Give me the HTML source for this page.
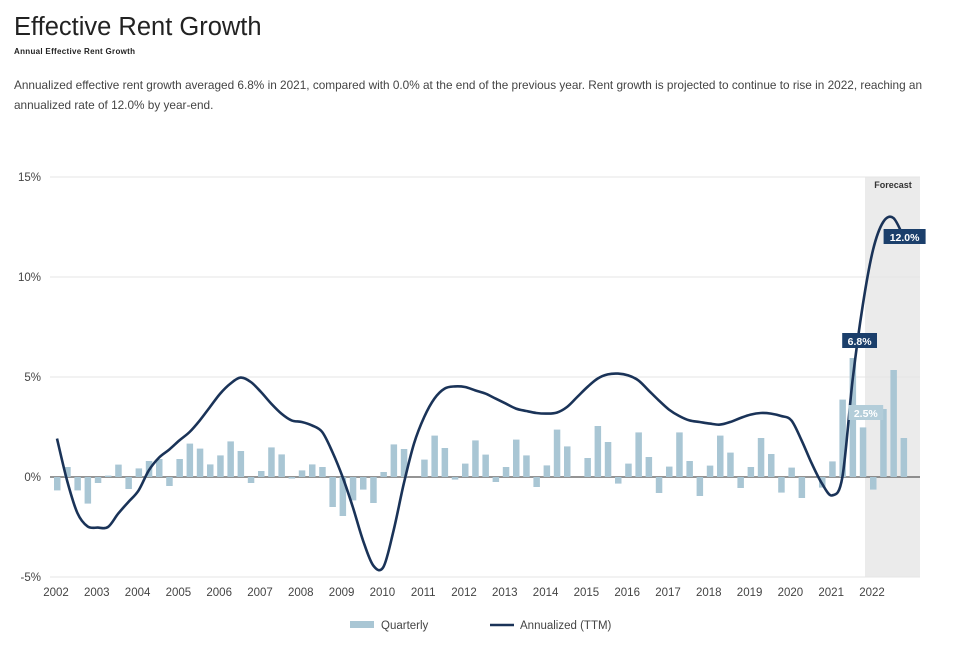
<!DOCTYPE html>
<html><head><meta charset="utf-8">
<style>
body{margin:0;background:#fff;font-family:"Liberation Sans",sans-serif;width:957px;height:651px;overflow:hidden;position:relative}
.t{position:absolute;left:14px;top:13px;font-size:25.5px;color:#222}
.s{position:absolute;left:14px;top:47px;font-size:8px;font-weight:bold;color:#222;letter-spacing:.3px}
.p{position:absolute;left:14px;top:75px;width:930px;font-size:11.8px;line-height:20px;color:#444}
svg{position:absolute;left:0;top:0}
</style></head><body>
<div class="t">Effective Rent Growth</div>
<div class="s">Annual Effective Rent Growth</div>
<div class="p">Annualized effective rent growth averaged 6.8% in 2021, compared with 0.0% at the end of the previous year. Rent growth is projected to continue to rise in 2022, reaching an annualized rate of 12.0% by year-end.</div>
<svg id="c" width="957" height="651"></svg>
<script>
const years=[2002,2003,2004,2005,2006,2007,2008,2009,2010,2011,2012,2013,2014,2015,2016,2017,2018,2019,2020,2021,2022];
const yTicks=[15,10,5,0,-5];
const quarterly=[-0.67,0.5,-0.67,-1.33,-0.3,0.07,0.62,-0.6,0.43,0.8,0.9,-0.45,0.9,1.67,1.42,0.63,1.08,1.78,1.3,-0.3,0.3,1.48,1.13,-0.08,0.33,0.63,0.5,-1.5,-1.95,-1.17,-0.63,-1.3,0.25,1.63,1.4,0,0.87,2.07,1.45,-0.13,0.67,1.83,1.12,-0.25,0.5,1.87,1.08,-0.5,0.58,2.37,1.53,0,0.95,2.55,1.75,-0.33,0.67,2.23,1.0,-0.8,0.52,2.23,0.8,-0.95,0.57,2.07,1.22,-0.55,0.5,1.95,1.15,-0.78,0.47,-1.05,0,-0.53,0.78,3.87,5.95,2.48,-0.63,3.4,5.35,1.95];
const annualized=[1.92,-0.2,-1.8,-2.47,-2.53,-2.5,-1.83,-1.25,-0.67,0.33,0.97,1.37,1.83,2.25,2.83,3.5,4.17,4.67,4.97,4.75,4.25,3.67,3.17,2.83,2.75,2.58,2.25,1.25,0,-1.5,-3.17,-4.42,-4.5,-2.67,-0.33,1.67,3.0,3.92,4.42,4.53,4.5,4.33,4.17,3.92,3.67,3.42,3.3,3.2,3.17,3.22,3.5,4.0,4.5,4.92,5.13,5.17,5.08,4.83,4.33,3.83,3.37,3.05,2.83,2.75,2.67,2.62,2.75,2.95,3.12,3.2,3.17,3.05,2.83,1.83,0.67,-0.33,-0.92,0,4.85,8.6,11.35,12.75,12.95,12.0];
const labels=[{i:79,v:2.5,t:"2.5%",c:"#b3cdd9",dx:3,dy:-14},{i:78,v:6.8,t:"6.8%",c:"#1b3f6b",dx:7,dy:0},{i:83,v:12.0,t:"12.0%",c:"#1b3f6b",dx:1,dy:0}];
const NS="http://www.w3.org/2000/svg",svg=document.getElementById('c');
const X0=50,X1=920,Y0=177,Y1=577;
const y=v=>477-v*20;
const x=i=>57+i*10.2;
function el(t,a,p){const e=document.createElementNS(NS,t);for(const k in a)e.setAttribute(k,a[k]);(p||svg).appendChild(e);return e;}
const fc=el('rect',{x:865,y:Y0,width:X1-865,height:Y1-Y0,fill:'#ebebeb'});


const ft=el('text',{x:893,y:188,'font-size':9,'font-weight':'bold','text-anchor':'middle',fill:'#333'});ft.textContent='Forecast';


yTicks.forEach(v=>{
 const g=el('line',{x1:X0,x2:X1,y1:y(v),y2:y(v),stroke:v===0?'#555':'#e6e6e6','stroke-width':v===0?1.2:1});
 
 
 const t=el('text',{x:41,y:y(v)+4,'font-size':11.5,'text-anchor':'end',fill:'#444'});t.textContent=v+'%';
 
 
});
years.forEach((yr,k)=>{
 const t=el('text',{x:x(k*4)-1,y:596,'font-size':11.5,'text-anchor':'middle',fill:'#444'});t.textContent=yr;
 
 
});
quarterly.forEach((v,i)=>{
 const b=el('rect',{x:x(i)-3,y:Math.min(y(v),477),width:6.5,height:Math.abs(v*20),fill:'#a9c6d4'});
 
 
});
let pts=annualized.map((v,i)=>[x(i),y(v)]);
let d='M'+pts[0][0]+','+pts[0][1];
for(let i=0;i<pts.length-1;i++){
 const p0=pts[Math.max(0,i-1)],p1=pts[i],p2=pts[i+1],p3=pts[Math.min(pts.length-1,i+2)];
 d+=` C${p1[0]+(p2[0]-p0[0])/6},${p1[1]+(p2[1]-p0[1])/6} ${p2[0]-(p3[0]-p1[0])/6},${p2[1]-(p3[1]-p1[1])/6} ${p2[0]},${p2[1]}`;
}
const ln=el('path',{d:d,fill:'none',stroke:'#1a3358','stroke-width':2.6});


labels.forEach(l=>{
 const cx=x(l.i)+l.dx,cy=y(l.v)+l.dy;
 const w=l.t.length*7.2+6;
 const r=el('rect',{x:cx-w/2,y:cy-8,width:w,height:15,fill:l.c});
 
 
 const t=el('text',{x:cx,y:cy+4,'font-size':10.5,'font-weight':'bold','text-anchor':'middle',fill:'#fff'});t.textContent=l.t;
 
 
});
const lg1=el('rect',{x:350,y:621,width:24,height:7,fill:'#a9c6d4'});


const lt1=el('text',{x:381,y:629,'font-size':11.5,fill:'#444'});lt1.textContent='Quarterly';


const lg2=el('line',{x1:490,x2:514,y1:625,y2:625,stroke:'#1a3358','stroke-width':2.6});


const lt2=el('text',{x:520,y:629,'font-size':11.5,fill:'#444'});lt2.textContent='Annualized (TTM)';


</script>
</body></html>
